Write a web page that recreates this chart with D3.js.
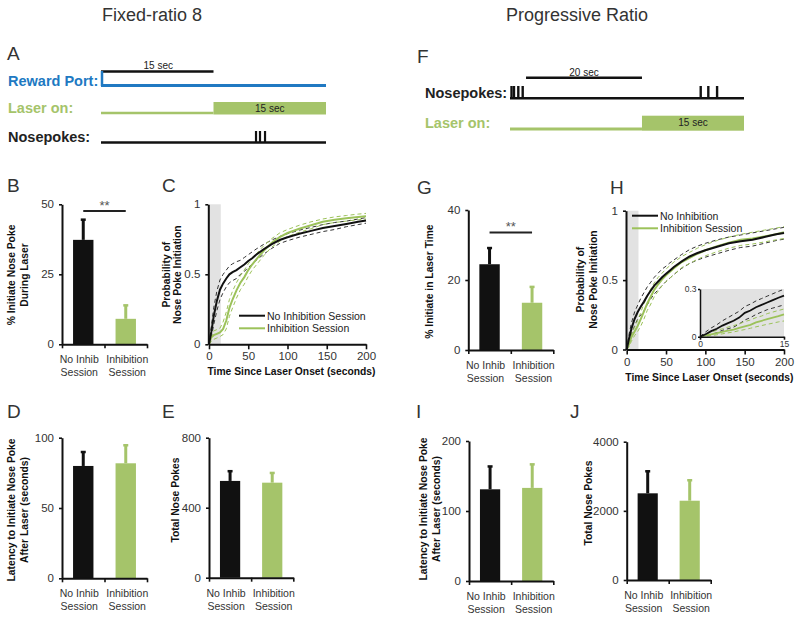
<!DOCTYPE html>
<html><head><meta charset="utf-8">
<script src="https://cdn.jsdelivr.net/npm/d3@7"></script>
<style>body{margin:0;background:#fff}text{font-family:"Liberation Sans",Arial,sans-serif}</style>
</head><body><svg id="c" width="800" height="619"></svg>
<script>
// ---------- DATA ----------
const catLine1 = ["No Inhib", "Inhibition"];
const catLine2 = ["Session", "Session"];
// Fixed-ratio 8
const bValues = [37.3, 9.1], bErrors = [7.3, 4.9];          // % initiate during laser
const dValues = [79.9, 81.8], dErrors = [10.1, 13.0];       // latency (s)
const eValues = [553, 543], eErrors = [57, 57];             // total nose pokes
// Progressive ratio
const gValues = [24.5, 13.5], gErrors = [4.7, 4.6];
const iValues = [131, 133], iErrors = [33, 34];
const jValues = [2507, 2293], jErrors = [645, 599];

// cumulative curves (time since laser onset, s)
const curveTime = [0,3,6,10,14,18,22,26,30,35,40,45,50,55,60,70,80,90,100,115,130,145,160,175,190,200];
const cNoInhib   = [0,0.09,0.2,0.31,0.39,0.435,0.47,0.5,0.515,0.53,0.55,0.57,0.595,0.615,0.64,0.68,0.715,0.745,0.765,0.79,0.81,0.83,0.845,0.86,0.875,0.885];
const cNoInhibHi = [0,0.13,0.26,0.38,0.46,0.5,0.53,0.56,0.575,0.59,0.6,0.62,0.64,0.66,0.68,0.715,0.745,0.77,0.79,0.815,0.835,0.855,0.87,0.88,0.895,0.905];
const cNoInhibLo = [0,0.05,0.14,0.24,0.32,0.37,0.41,0.44,0.455,0.47,0.5,0.52,0.55,0.57,0.6,0.645,0.685,0.72,0.74,0.765,0.785,0.805,0.82,0.84,0.855,0.865];
const cInhib     = [0,0.05,0.065,0.075,0.085,0.11,0.17,0.26,0.32,0.385,0.44,0.48,0.53,0.57,0.605,0.67,0.725,0.765,0.795,0.825,0.85,0.875,0.89,0.9,0.91,0.915];
const cInhibHi   = [0,0.08,0.095,0.105,0.115,0.16,0.23,0.32,0.38,0.44,0.49,0.53,0.575,0.61,0.645,0.705,0.755,0.795,0.82,0.85,0.875,0.895,0.91,0.92,0.93,0.935];
const cInhibLo   = [0,0.02,0.035,0.045,0.055,0.07,0.11,0.2,0.26,0.33,0.39,0.43,0.485,0.53,0.565,0.635,0.695,0.735,0.77,0.8,0.825,0.855,0.87,0.88,0.89,0.895];

const hNoInhib   = [0,0.08,0.15,0.22,0.27,0.31,0.345,0.385,0.42,0.46,0.49,0.52,0.545,0.57,0.595,0.635,0.67,0.695,0.715,0.74,0.765,0.78,0.79,0.81,0.83,0.84];
const hNoInhibHi = [0,0.11,0.19,0.27,0.32,0.37,0.41,0.45,0.48,0.52,0.55,0.58,0.6,0.625,0.645,0.685,0.72,0.745,0.765,0.79,0.81,0.825,0.84,0.855,0.87,0.88];
const hNoInhibLo = [0,0.05,0.11,0.17,0.22,0.25,0.28,0.32,0.36,0.4,0.43,0.46,0.49,0.515,0.54,0.585,0.62,0.645,0.665,0.69,0.715,0.735,0.745,0.765,0.785,0.795];
const hInhib     = [0,0.04,0.09,0.13,0.17,0.22,0.275,0.33,0.375,0.43,0.47,0.505,0.535,0.56,0.585,0.63,0.66,0.69,0.715,0.745,0.77,0.79,0.8,0.815,0.83,0.845];
const hInhibHi   = [0,0.06,0.12,0.16,0.21,0.27,0.33,0.38,0.43,0.48,0.52,0.55,0.58,0.605,0.63,0.67,0.7,0.73,0.755,0.785,0.81,0.83,0.845,0.86,0.875,0.885];
const hInhibLo   = [0,0.02,0.06,0.1,0.13,0.17,0.22,0.28,0.32,0.38,0.42,0.46,0.49,0.515,0.54,0.59,0.62,0.65,0.675,0.705,0.73,0.75,0.76,0.775,0.79,0.8];

// inset (first 15 s)
const insetTime = [0,1,2,3,4,5,6,7,8,9,10,11,12,13,14,15];
const insNoInhib   = [0,0.015,0.035,0.05,0.07,0.085,0.1,0.12,0.15,0.165,0.185,0.2,0.215,0.23,0.245,0.258];
const insNoInhibHi = [0,0.03,0.055,0.075,0.1,0.12,0.14,0.16,0.19,0.205,0.225,0.24,0.255,0.27,0.285,0.298];
const insNoInhibLo = [0,0.005,0.015,0.025,0.04,0.05,0.06,0.08,0.105,0.12,0.14,0.155,0.17,0.18,0.19,0.2];
const insInhib     = [0,0.008,0.015,0.022,0.03,0.038,0.045,0.055,0.065,0.075,0.09,0.1,0.11,0.12,0.13,0.141];
const insInhibHi   = [0,0.015,0.03,0.04,0.05,0.06,0.07,0.08,0.095,0.105,0.12,0.13,0.145,0.155,0.165,0.174];
const insInhibLo   = [0,0.003,0.007,0.012,0.018,0.024,0.03,0.038,0.045,0.053,0.062,0.07,0.078,0.085,0.093,0.099];

// schematic timelines (seconds)
const aSpan = [0, 30], aBracket = [0, 15], aLaser = [15, 30], aPokes = [20.67, 21.2, 21.87];
const fSpan = [0, 40], fBracket = [2.74, 22.56], fLaser = [22.56, 40], fPokes = [0.26, 0.68, 1.42, 2.17, 32.6, 33.9, 35.4];

// ---------- STYLE ----------
const BLACK = "#111", GREEN = "#a5c46a", GREEN_LINE = "#9cc25a", BLUE = "#2079c2", GRAY = "#e2e2e2";
const svg = d3.select("#c");
svg.append("rect").attr("width", 800).attr("height", 619).attr("fill", "#fff");

function txt(x, y, s, o = {}) {
  const t = svg.append("text").attr("x", x).attr("y", y).text(s)
    .attr("font-size", o.size || 11).attr("fill", o.fill || "#222")
    .attr("text-anchor", o.anchor || "start").attr("font-weight", o.weight || "normal");
  return t;
}
// titles and panel letters
txt(152, 21, "Fixed-ratio 8", {size: 18, anchor: "middle", fill: "#333"});
txt(577, 21, "Progressive Ratio", {size: 18, anchor: "middle", fill: "#333"});
[["A",7,60],["F",417,63],["B",7,192],["C",162,192],["G",417,194],["H",610,194],
 ["D",7,418],["E",162,418],["I",416,418],["J",570,418]].forEach(([l,x,y]) => txt(x, y, l, {size: 19, fill: "#333"}));

// ---------- SCHEMATICS ----------
(function panelA() {
  const x = d3.scaleLinear().domain(aSpan).range([101, 326]);
  svg.append("line").attr("x1", x(aBracket[0])).attr("x2", x(aBracket[1])).attr("y1", 71.5).attr("y2", 71.5).attr("stroke", BLACK).attr("stroke-width", 2.5);
  svg.append("line").attr("x1", x(aBracket[0]) + 1).attr("x2", x(aBracket[0]) + 1).attr("y1", 71).attr("y2", 86).attr("stroke", BLUE).attr("stroke-width", 2.5);
  txt(x((aBracket[0] + aBracket[1]) / 2) + 1, 69, "15 sec", {size: 10, anchor: "middle"});
  txt(8, 86, "Reward Port:", {size: 14.5, weight: "bold", fill: BLUE});
  svg.append("line").attr("x1", x(aSpan[0])).attr("x2", x(aSpan[1])).attr("y1", 85.5).attr("y2", 85.5).attr("stroke", BLUE).attr("stroke-width", 3);
  txt(8, 113, "Laser on:", {size: 14.5, weight: "bold", fill: GREEN});
  svg.append("line").attr("x1", x(aSpan[0])).attr("x2", x(aLaser[0])).attr("y1", 113).attr("y2", 113).attr("stroke", GREEN).attr("stroke-width", 2.5);
  svg.append("rect").attr("x", x(aLaser[0])).attr("width", x(aLaser[1]) - x(aLaser[0])).attr("y", 102).attr("height", 12.5).attr("fill", GREEN);
  txt((x(aLaser[0]) + x(aLaser[1])) / 2, 112, "15 sec", {size: 10, anchor: "middle"});
  txt(8, 142, "Nosepokes:", {size: 14.5, weight: "bold"});
  svg.append("line").attr("x1", x(aSpan[0])).attr("x2", x(aSpan[1])).attr("y1", 142.5).attr("y2", 142.5).attr("stroke", BLACK).attr("stroke-width", 2.5);
  svg.selectAll(".ap").data(aPokes).enter().append("line").attr("x1", d => x(d)).attr("x2", d => x(d)).attr("y1", 131).attr("y2", 143).attr("stroke", BLACK).attr("stroke-width", 2.2);
})();

(function panelF() {
  const x = d3.scaleLinear().domain(fSpan).range([510, 744]);
  svg.append("line").attr("x1", x(fBracket[0])).attr("x2", x(fBracket[1])).attr("y1", 77.7).attr("y2", 77.7).attr("stroke", BLACK).attr("stroke-width", 2.5);
  txt((x(fBracket[0]) + x(fBracket[1])) / 2, 76, "20 sec", {size: 10, anchor: "middle"});
  txt(425, 98, "Nosepokes:", {size: 14.5, weight: "bold"});
  svg.append("line").attr("x1", x(fSpan[0])).attr("x2", x(fSpan[1])).attr("y1", 98.3).attr("y2", 98.3).attr("stroke", BLACK).attr("stroke-width", 2.5);
  svg.selectAll(".fp").data(fPokes).enter().append("line").attr("x1", d => x(d)).attr("x2", d => x(d)).attr("y1", 86).attr("y2", 99).attr("stroke", BLACK).attr("stroke-width", 2.4);
  txt(425, 128, "Laser on:", {size: 14.5, weight: "bold", fill: GREEN});
  svg.append("line").attr("x1", x(fSpan[0])).attr("x2", x(fLaser[0])).attr("y1", 129).attr("y2", 129).attr("stroke", GREEN).attr("stroke-width", 3);
  svg.append("rect").attr("x", x(fLaser[0])).attr("width", x(fLaser[1]) - x(fLaser[0])).attr("y", 115.7).attr("height", 15).attr("fill", GREEN);
  txt((x(fLaser[0]) + x(fLaser[1])) / 2, 126, "15 sec", {size: 10, anchor: "middle"});
})();

// ---------- HELPERS ----------
function yLabel(lines, xs, cy) {
  lines.forEach((s, i) => {
    svg.append("text").attr("transform", `translate(${xs[i] + 3.7},${cy}) rotate(-90)`)
      .attr("text-anchor", "middle").attr("font-size", 10.3).attr("font-weight", "bold").attr("fill", "#111").text(s);
  });
}
function styleAxis(g, w) {
  g.select(".domain").attr("stroke", "#111").attr("stroke-width", w || 2);
  g.selectAll(".tick line").attr("stroke", "#111").attr("stroke-width", 1.6);
  g.selectAll(".tick text").attr("fill", "#333").attr("font-family", '"Liberation Sans",Arial,sans-serif');
}

function barPanel(c) {
  const y = d3.scaleLinear().domain([0, c.max]).range([c.yBot, c.yTop]);
  const pos = d3.scaleLinear().domain([0, 2]).range([c.x0, c.x1]);
  const band = d3.scaleBand().domain(catLine1).range([c.x0, c.x1]);
  const bw = band.bandwidth() * 0.48;
  const colors = [BLACK, GREEN];
  const labelShift = [-4, 1.5];
  c.values.forEach((v, i) => {
    const cx = band(catLine1[i]) + band.bandwidth() / 2;
    const top = y(v + c.errors[i]);
    svg.append("line").attr("x1", cx).attr("x2", cx).attr("y1", y(v)).attr("y2", top).attr("stroke", colors[i]).attr("stroke-width", 3);
    svg.append("rect").attr("x", cx - 2.5).attr("y", top - 1).attr("width", 5).attr("height", 2.5).attr("fill", colors[i]);
    svg.append("rect").attr("x", cx - bw / 2).attr("y", y(v)).attr("width", bw).attr("height", y(0) - y(v)).attr("fill", colors[i]);
    txt(cx + labelShift[i], c.yBot + 19, catLine1[i], {size: 10.5, anchor: "middle", fill: "#333"});
    txt(cx + labelShift[i], c.yBot + 32, catLine2[i], {size: 10.5, anchor: "middle", fill: "#333"});
  });
  const ay = svg.append("g").attr("transform", `translate(${c.x0},0)`)
    .call(d3.axisLeft(y).tickValues(c.ticks).tickSizeInner(3).tickSizeOuter(0).tickPadding(5).tickFormat(d3.format("d")));
  ay.selectAll(".tick text").attr("font-size", 11.5);
  styleAxis(ay);
  const ax = svg.append("g").attr("transform", `translate(0,${c.yBot})`)
    .call(d3.axisBottom(pos).tickValues([0, 1, 2]).tickSizeInner(4).tickSizeOuter(0).tickFormat(""));
  styleAxis(ax);
  if (c.sig !== undefined) {
    const c1 = band(catLine1[0]) + band.bandwidth() / 2, c2 = band(catLine1[1]) + band.bandwidth() / 2;
    svg.append("line").attr("x1", c1).attr("x2", c2).attr("y1", y(c.sig)).attr("y2", y(c.sig)).attr("stroke", "#222").attr("stroke-width", 2);
    txt((c1 + c2) / 2, y(c.sig) - 1, "**", {size: 13, anchor: "middle", fill: "#555"});
  }
  yLabel(c.label, c.labelX, c.labelY);
}

function curvePanel(c) {
  const x = d3.scaleLinear().domain([0, 200]).range([c.x0, c.x1]);
  const y = d3.scaleLinear().domain([0, 1]).range([c.yBot, c.yTop]);
  svg.append("rect").attr("x", x(0)).attr("y", y(1)).attr("width", x(15) - x(0)).attr("height", y(0) - y(1)).attr("fill", GRAY);
  const line = arr => d3.line().x((d, i) => x(curveTime[i])).y(d => y(d))(arr);
  const dash = (arr, col) => svg.append("path").attr("d", line(arr)).attr("fill", "none").attr("stroke", col).attr("stroke-width", 1).attr("stroke-dasharray", "4,3");
  dash(c.bHi, "#333"); dash(c.bLo, "#333"); dash(c.gHi, GREEN_LINE); dash(c.gLo, GREEN_LINE);
  svg.append("path").attr("d", line(c.g)).attr("fill", "none").attr("stroke", GREEN_LINE).attr("stroke-width", 2);
  svg.append("path").attr("d", line(c.b)).attr("fill", "none").attr("stroke", BLACK).attr("stroke-width", 2);
  const ay = svg.append("g").attr("transform", `translate(${c.x0 - 0.7},0)`)
    .call(d3.axisLeft(y).tickValues([0, 0.5, 1]).tickSizeInner(3).tickSizeOuter(0).tickPadding(5).tickFormat(d => d === 0.5 ? "0.5" : d3.format("d")(d)));
  ay.selectAll(".tick text").attr("font-size", 11.5);
  styleAxis(ay);
  const ax = svg.append("g").attr("transform", `translate(0,${c.yBot})`)
    .call(d3.axisBottom(x).tickValues([0, 50, 100, 150, 200]).tickSizeInner(5).tickSizeOuter(0).tickPadding(3));
  ax.selectAll(".tick text").attr("font-size", 11.5);
  styleAxis(ax);
  txt((c.x0 + c.x1) / 2 + 4, c.yBot + 31, "Time Since Laser Onset (seconds)", {size: 10.3, weight: "bold", anchor: "middle", fill: "#111"});
  const L = c.legend;
  [[BLACK, L.names[0], L.y], [GREEN_LINE, L.names[1], L.y + 12.6]].forEach(([col, name, ly]) => {
    svg.append("line").attr("x1", L.x).attr("x2", L.x + 26).attr("y1", ly).attr("y2", ly).attr("stroke", col).attr("stroke-width", 2);
    txt(L.x + 28, ly + 3.8, name, {size: 10.5, fill: "#222"});
  });
  yLabel(["Probability of", "Nose Poke Initiation"], c.labelX, c.labelY);
}

// ---------- PANELS ----------
barPanel({x0: 62, x1: 147, yTop: 204.3, yBot: 344.3, max: 50, ticks: [0, 25, 50], values: bValues, errors: bErrors, sig: 47.6,
  label: ["% Initiate Nose Poke", "During Laser"], labelX: [11, 24.5], labelY: 275});
barPanel({x0: 62, x1: 147, yTop: 437.7, yBot: 578.3, max: 100, ticks: [0, 50, 100], values: dValues, errors: dErrors,
  label: ["Latency to Initiate Nose Poke", "After Laser (seconds)"], labelX: [11.5, 24], labelY: 510});
barPanel({x0: 209, x1: 293.3, yTop: 437.7, yBot: 577.7, max: 800, ticks: [0, 400, 800], values: eValues, errors: eErrors,
  label: ["Total Nose Pokes"], labelX: [175], labelY: 500});
barPanel({x0: 468.3, x1: 553.3, yTop: 210, yBot: 350, max: 40, ticks: [0, 20, 40], values: gValues, errors: gErrors, sig: 33.6,
  label: ["% Initiate in Laser Time"], labelX: [429.6], labelY: 281.6});
barPanel({x0: 469, x1: 553.3, yTop: 441, yBot: 581, max: 200, ticks: [0, 100, 200], values: iValues, errors: iErrors,
  label: ["Latency to Initiate Nose Poke", "After Laser (seconds)"], labelX: [423.5, 436], labelY: 509});
barPanel({x0: 626.7, x1: 710.7, yTop: 441.7, yBot: 580, max: 4000, ticks: [0, 2000, 4000], values: jValues, errors: jErrors,
  label: ["Total Nose Pokes"], labelX: [588], labelY: 503});

curvePanel({x0: 209, x1: 366, yTop: 204.3, yBot: 344.3, b: cNoInhib, bHi: cNoInhibHi, bLo: cNoInhibLo, g: cInhib, gHi: cInhibHi, gLo: cInhibLo,
  legend: {x: 239, y: 315.7, names: ["No Inhibition Session", "Inhibition Session"]}, labelX: [166, 177.5], labelY: 274.7});
curvePanel({x0: 626.7, x1: 784, yTop: 210.7, yBot: 349.5, b: hNoInhib, bHi: hNoInhibHi, bLo: hNoInhibLo, g: hInhib, gHi: hInhibHi, gLo: hInhibLo,
  legend: {x: 632, y: 215.7, names: ["No Inhibition", "Inhibition Session"]}, labelX: [580.6, 593], labelY: 279.6});

// ---------- INSET ----------
(function inset() {
  const x = d3.scaleLinear().domain([0, 15]).range([700, 784]);
  const y = d3.scaleLinear().domain([0, 0.3]).range([336.7, 289]);
  svg.append("rect").attr("x", x(0)).attr("y", y(0.3)).attr("width", x(15) - x(0)).attr("height", y(0) - y(0.3)).attr("fill", GRAY);
  const line = arr => d3.line().x((d, i) => x(insetTime[i])).y(d => y(d))(arr);
  const dash = (arr, col) => svg.append("path").attr("d", line(arr)).attr("fill", "none").attr("stroke", col).attr("stroke-width", 1).attr("stroke-dasharray", "4,3");
  dash(insNoInhibHi, "#333"); dash(insNoInhibLo, "#333"); dash(insInhibHi, GREEN_LINE); dash(insInhibLo, GREEN_LINE);
  svg.append("path").attr("d", line(insInhib)).attr("fill", "none").attr("stroke", GREEN_LINE).attr("stroke-width", 1.8);
  svg.append("path").attr("d", line(insNoInhib)).attr("fill", "none").attr("stroke", BLACK).attr("stroke-width", 1.8);
  const ay = svg.append("g").attr("transform", `translate(${x(0)},0)`)
    .call(d3.axisLeft(y).tickValues([0, 0.3]).tickSizeInner(2).tickSizeOuter(0).tickPadding(1.5).tickFormat(d => d === 0 ? "0" : "0.3"));
  ay.selectAll(".tick text").attr("font-size", 8.5);
  styleAxis(ay, 1.5);
  const ax = svg.append("g").attr("transform", `translate(0,${y(0)})`)
    .call(d3.axisBottom(x).tickValues([0, 15]).tickSizeInner(3).tickSizeOuter(0).tickPadding(1.5));
  ax.selectAll(".tick text").attr("font-size", 8.5);
  styleAxis(ax, 1.5);
})();
</script></body></html>
